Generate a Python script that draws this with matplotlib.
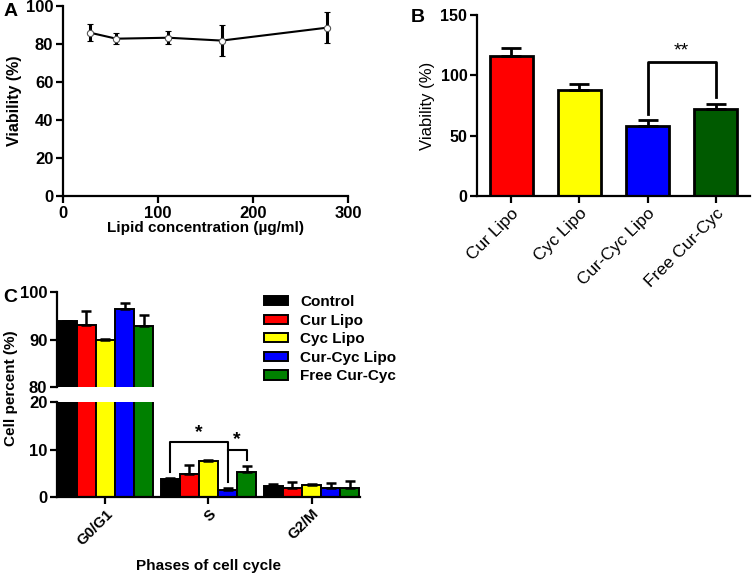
import numpy as np
import matplotlib
matplotlib.use("Agg")
import matplotlib.pyplot as plt

plt.rcParams['font.family'] = ['Liberation Sans', 'DejaVu Sans']
plt.rcParams['axes.linewidth'] = 1.6

# Panel A: viability vs lipid concentration
lipid_conc = [28, 56, 111, 167, 278]
viab_a = [86.0, 82.8, 83.3, 81.8, 88.6]
viab_a_err = [4.5, 3.0, 3.5, 8.0, 8.0]

# Panel B: viability per formulation
groups_b = ['Cur Lipo', 'Cyc Lipo', 'Cur-Cyc Lipo', 'Free Cur-Cyc']
viab_b = [116.0, 87.5, 58.0, 72.0]
viab_b_err = [7.0, 5.0, 5.0, 4.3]
colors_b = ['#ff0000', '#ffff00', '#0000ff', '#005a00']

# Panel C: cell cycle phases
phases = ['G0/G1', 'S', 'G2/M']
treatments = ['Control', 'Cur Lipo', 'Cyc Lipo', 'Cur-Cyc Lipo', 'Free Cur-Cyc']
control = [93.8, 3.7, 2.4]
control_err = [0.2, 0.2, 0.3]
cur_lipo = [93.1, 4.8, 2.0]
cur_lipo_err = [3.0, 2.0, 1.2]
cyc_lipo = [89.85, 7.5, 2.5]
cyc_lipo_err = [0.2, 0.3, 0.2]
curcyc_lipo = [96.5, 1.4, 1.9]
curcyc_lipo_err = [1.2, 0.4, 1.0]
free_curcyc = [92.8, 5.2, 1.9]
free_curcyc_err = [2.3, 1.3, 1.4]
colors_c = ['#000000', '#ff0000', '#ffff00', '#0000ff', '#008000']

fig = plt.figure(figsize=(7.52, 5.74), dpi=100)


def style_axes(ax):
    for s in ['top', 'right']:
        ax.spines[s].set_visible(False)
    ax.tick_params(direction='out', length=5, width=1.6, pad=2)


# ---- A ----
axA = fig.add_axes([63 / 752, 1 - 196 / 574, 285 / 752, 190 / 574])
style_axes(axA)
axA.errorbar(lipid_conc, viab_a, yerr=viab_a_err, color='black', lw=1.5,
             elinewidth=2.2, capsize=2.5, capthick=2.2, marker='o', ms=4.5,
             mfc='white', mec='#555555', mew=0.8)
axA.set_xlim(0, 300)
axA.set_ylim(0, 100)
axA.set_xticks([0, 100, 200, 300])
axA.set_yticks(range(0, 101, 20))
for lab in axA.get_xticklabels() + axA.get_yticklabels():
    lab.set_fontweight('bold')
    lab.set_fontsize(12)
axA.set_ylabel('Viability (%)', fontsize=11.5, fontweight='bold', labelpad=3)
axA.set_xlabel('Lipid concentration (µg/ml)', fontsize=11, fontweight='bold',
               labelpad=0)

# ---- B ----
axB = fig.add_axes([477 / 752, 1 - 196 / 574, 273 / 752, 181 / 574])
style_axes(axB)
xb = np.arange(len(groups_b))
axB.bar(xb, viab_b, width=0.63, color=colors_b, edgecolor='black', lw=2,
        yerr=[np.zeros(len(viab_b)), viab_b_err],
        error_kw=dict(elinewidth=2, capsize=7, capthick=2), zorder=2)
axB.set_xlim(-0.5, 3.5)
axB.set_ylim(0, 150)
axB.set_yticks([0, 50, 100, 150])
axB.set_xticks(xb)
axB.set_xticklabels(groups_b, rotation=45, ha='right', rotation_mode='anchor',
                    fontsize=12.5)
for lab in axB.get_yticklabels():
    lab.set_fontweight('bold')
    lab.set_fontsize(11.5)
axB.set_ylabel('Viability (%)', fontsize=12, labelpad=4)
# significance bracket
br_top = 111
i1, i2 = 2, 3
axB.plot([xb[i1], xb[i1], xb[i2], xb[i2]],
         [viab_b[i1] + viab_b_err[i1] + 5, br_top, br_top,
          viab_b[i2] + viab_b_err[i2] + 6], color='black', lw=2)
axB.text((xb[i1] + xb[i2]) / 2, br_top + 2, '**', ha='center', va='bottom',
         fontsize=14)

# ---- C ----
axCt = fig.add_axes([57 / 752, 1 - 387 / 574, 303 / 752, 95 / 574])
axCb = fig.add_axes([57 / 752, 1 - 497 / 574, 303 / 752, 95 / 574])
vals_c = [control, cur_lipo, cyc_lipo, curcyc_lipo, free_curcyc]
errs_c = [control_err, cur_lipo_err, cyc_lipo_err, curcyc_lipo_err,
          free_curcyc_err]
w = 0.185
xc = np.arange(len(phases))
handles = []
for ax in (axCt, axCb):
    style_axes(ax)
    for j, (v, e) in enumerate(zip(vals_c, errs_c)):
        b = ax.bar(xc + (j - 2) * w, v, width=w, color=colors_c[j],
                   edgecolor='black', lw=1.4,
                   yerr=[np.zeros(len(v)), e],
                   error_kw=dict(elinewidth=1.8, capsize=3.5, capthick=1.8),
                   label=treatments[j])
        if ax is axCb:
            handles.append(b)
    ax.set_xlim(-0.47, 2.47)

axCt.set_ylim(80, 100)
axCt.set_yticks([80, 90, 100])
axCt.spines['bottom'].set_visible(False)
axCt.tick_params(axis='x', bottom=False, labelbottom=False)
axCb.set_ylim(0, 20)
axCb.set_yticks([0, 10, 20])
axCb.set_xticks(xc)
axCb.set_xticklabels(phases, rotation=45, ha='right', rotation_mode='anchor',
                     fontsize=10.8, fontweight='bold')
for ax in (axCt, axCb):
    for lab in ax.get_yticklabels():
        lab.set_fontweight('bold')
        lab.set_fontsize(12)
fig.text(208 / 752, 1 - 566 / 574, 'Phases of cell cycle', ha='center',
         va='center', fontsize=11, fontweight='bold')
fig.text(11 / 752, 1 - 388 / 574, 'Cell percent (%)', rotation=90,
         ha='center', va='center', fontsize=11, fontweight='bold')

# brackets in S phase
s = 1
xa = s + (0 - 2) * w
xm = s + (3 - 2) * w
xf = s + (4 - 2) * w
top1, top2 = 11.5, 10.0
axCb.plot([xa, xa, xm, xm],
          [control[s] + control_err[s] + 1.4, top1, top1,
           curcyc_lipo[s] + curcyc_lipo_err[s] + 1.4], color='black', lw=1.5)
axCb.plot([xm, xf, xf],
          [top2, top2, free_curcyc[s] + free_curcyc_err[s] + 1.2],
          color='black', lw=1.5)
axCb.text((xa + xm) / 2, top1 + 0.3, '*', ha='center', va='bottom',
          fontsize=14, fontweight='bold')
axCb.text((xm + xf) / 2, top2 + 0.3, '*', ha='center', va='bottom',
          fontsize=14, fontweight='bold')

fig.legend(handles=handles, labels=treatments, loc='upper left',
           bbox_to_anchor=(264 / 752, 1 - 295 / 574), frameon=False,
           prop=dict(size=11, weight='bold'), handlelength=1.6,
           handleheight=0.55, labelspacing=0.3, handletextpad=0.75,
           borderpad=0, borderaxespad=0)

# panel letters
fig.text(4 / 752, 1 - 12 / 574, 'A', fontsize=14, fontweight='bold', va='center')
fig.text(411 / 752, 1 - 17 / 574, 'B', fontsize=14, fontweight='bold', va='center')
fig.text(3 / 752, 1 - 298 / 574, 'C', fontsize=14, fontweight='bold', va='center')

fig.savefig('out.png', dpi=100)
